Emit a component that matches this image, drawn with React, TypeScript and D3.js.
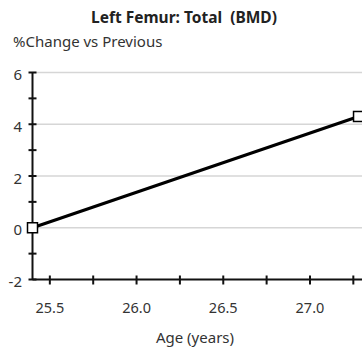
import React, { useRef, useEffect } from 'react';
import * as d3 from 'd3';

// series: % change in BMD vs previous visit
const ages = [25.4, 27.28];
const pctChange = [0, 4.3];
const yMajorTicks = [-2, 0, 2, 4, 6];
const yMinorTicks = [-1, 1, 3, 5];
const xTicks = [25.5, 25.75, 26.0, 26.25, 26.5, 26.75, 27.0, 27.25];
const xLabels = [25.5, 26.0, 26.5, 27.0];

const W = 362;
const H = 356;

const App = () => {
  const svgRef = useRef<SVGSVGElement>(null);

  useEffect(() => {
    if (!svgRef.current) return;
    const svg = d3.select(svgRef.current);
    svg.selectAll('*').remove();

    const font = "'Noto Sans', 'DejaVu Sans', sans-serif";
    const x = d3.scaleLinear().domain([25.4, 27.3]).range([32.5, 362]);
    const y = d3.scaleLinear().domain([-2, 6]).range([279.5, 72.5]);

    // title + subtitle
    svg.append('text')
      .attr('x', 184).attr('y', 23)
      .attr('text-anchor', 'middle')
      .attr('font-family', font).attr('font-size', 15.5).attr('font-weight', 'bold')
      .attr('fill', '#222')
      .style('white-space', 'pre')
      .text('Left Femur: Total  (BMD)');

    svg.append('text')
      .attr('x', 13).attr('y', 47)
      .attr('font-family', font).attr('font-size', 15)
      .attr('fill', '#333')
      .text('%Change vs Previous');

    // gridlines
    svg.append('g')
      .selectAll('line')
      .data(yMajorTicks.filter(d => d > -2))
      .join('line')
      .attr('x1', x(25.4)).attr('x2', W)
      .attr('y1', d => y(d)).attr('y2', d => y(d))
      .attr('stroke', '#d6d6d6').attr('stroke-width', 1.5);

    // y axis
    const ax = svg.append('g').attr('stroke', '#111').attr('stroke-width', 2);
    ax.append('line')
      .attr('x1', x(25.4)).attr('x2', x(25.4))
      .attr('y1', y(6)).attr('y2', y(-2));
    ax.selectAll('.ymaj')
      .data(yMajorTicks.concat(yMinorTicks))
      .join('line')
      .attr('x1', x(25.4) - 4).attr('x2', x(25.4) + 4)
      .attr('y1', d => y(d)).attr('y2', d => y(d));

    // x axis
    ax.append('line')
      .attr('x1', x(25.4)).attr('x2', W)
      .attr('y1', y(-2)).attr('y2', y(-2));
    ax.selectAll('.xt')
      .data(xTicks)
      .join('line')
      .attr('x1', d => x(d)).attr('x2', d => x(d))
      .attr('y1', y(-2) - 4).attr('y2', y(-2) + 5);

    svg.append('g')
      .selectAll('text')
      .data(yMajorTicks)
      .join('text')
      .attr('x', 22).attr('y', d => y(d) + 7.5)
      .attr('text-anchor', 'end')
      .attr('font-family', font).attr('font-size', 15)
      .attr('fill', '#333')
      .text(d => d);

    svg.append('g')
      .selectAll('text')
      .data(xLabels)
      .join('text')
      .attr('x', d => x(d)).attr('y', 313)
      .attr('text-anchor', 'middle')
      .attr('font-family', font).attr('font-size', 14.5)
      .attr('fill', '#333')
      .text(d => d.toFixed(1));

    svg.append('text')
      .attr('x', 195).attr('y', 343)
      .attr('text-anchor', 'middle')
      .attr('font-family', font).attr('font-size', 15)
      .attr('fill', '#333')
      .text('Age (years)');

    // series line + square markers
    const pts = ages.map((a, i) => [a, pctChange[i]] as [number, number]);
    const line = d3.line<[number, number]>().x(d => x(d[0])).y(d => y(d[1]));
    svg.append('path')
      .datum(pts)
      .attr('d', line)
      .attr('fill', 'none')
      .attr('stroke', '#000')
      .attr('stroke-width', 3);

    svg.append('g')
      .selectAll('rect')
      .data(pts)
      .join('rect')
      .attr('x', d => x(d[0]) - 5).attr('y', d => y(d[1]) - 5)
      .attr('width', 10).attr('height', 10)
      .attr('fill', '#fff')
      .attr('stroke', '#000').attr('stroke-width', 1.5);
  }, []);

  return (
    <svg
      ref={svgRef}
      width={W}
      height={H}
      style={{ position: 'absolute', left: 0, top: 0, background: '#fff' }}
    />
  );
};

export default App;
